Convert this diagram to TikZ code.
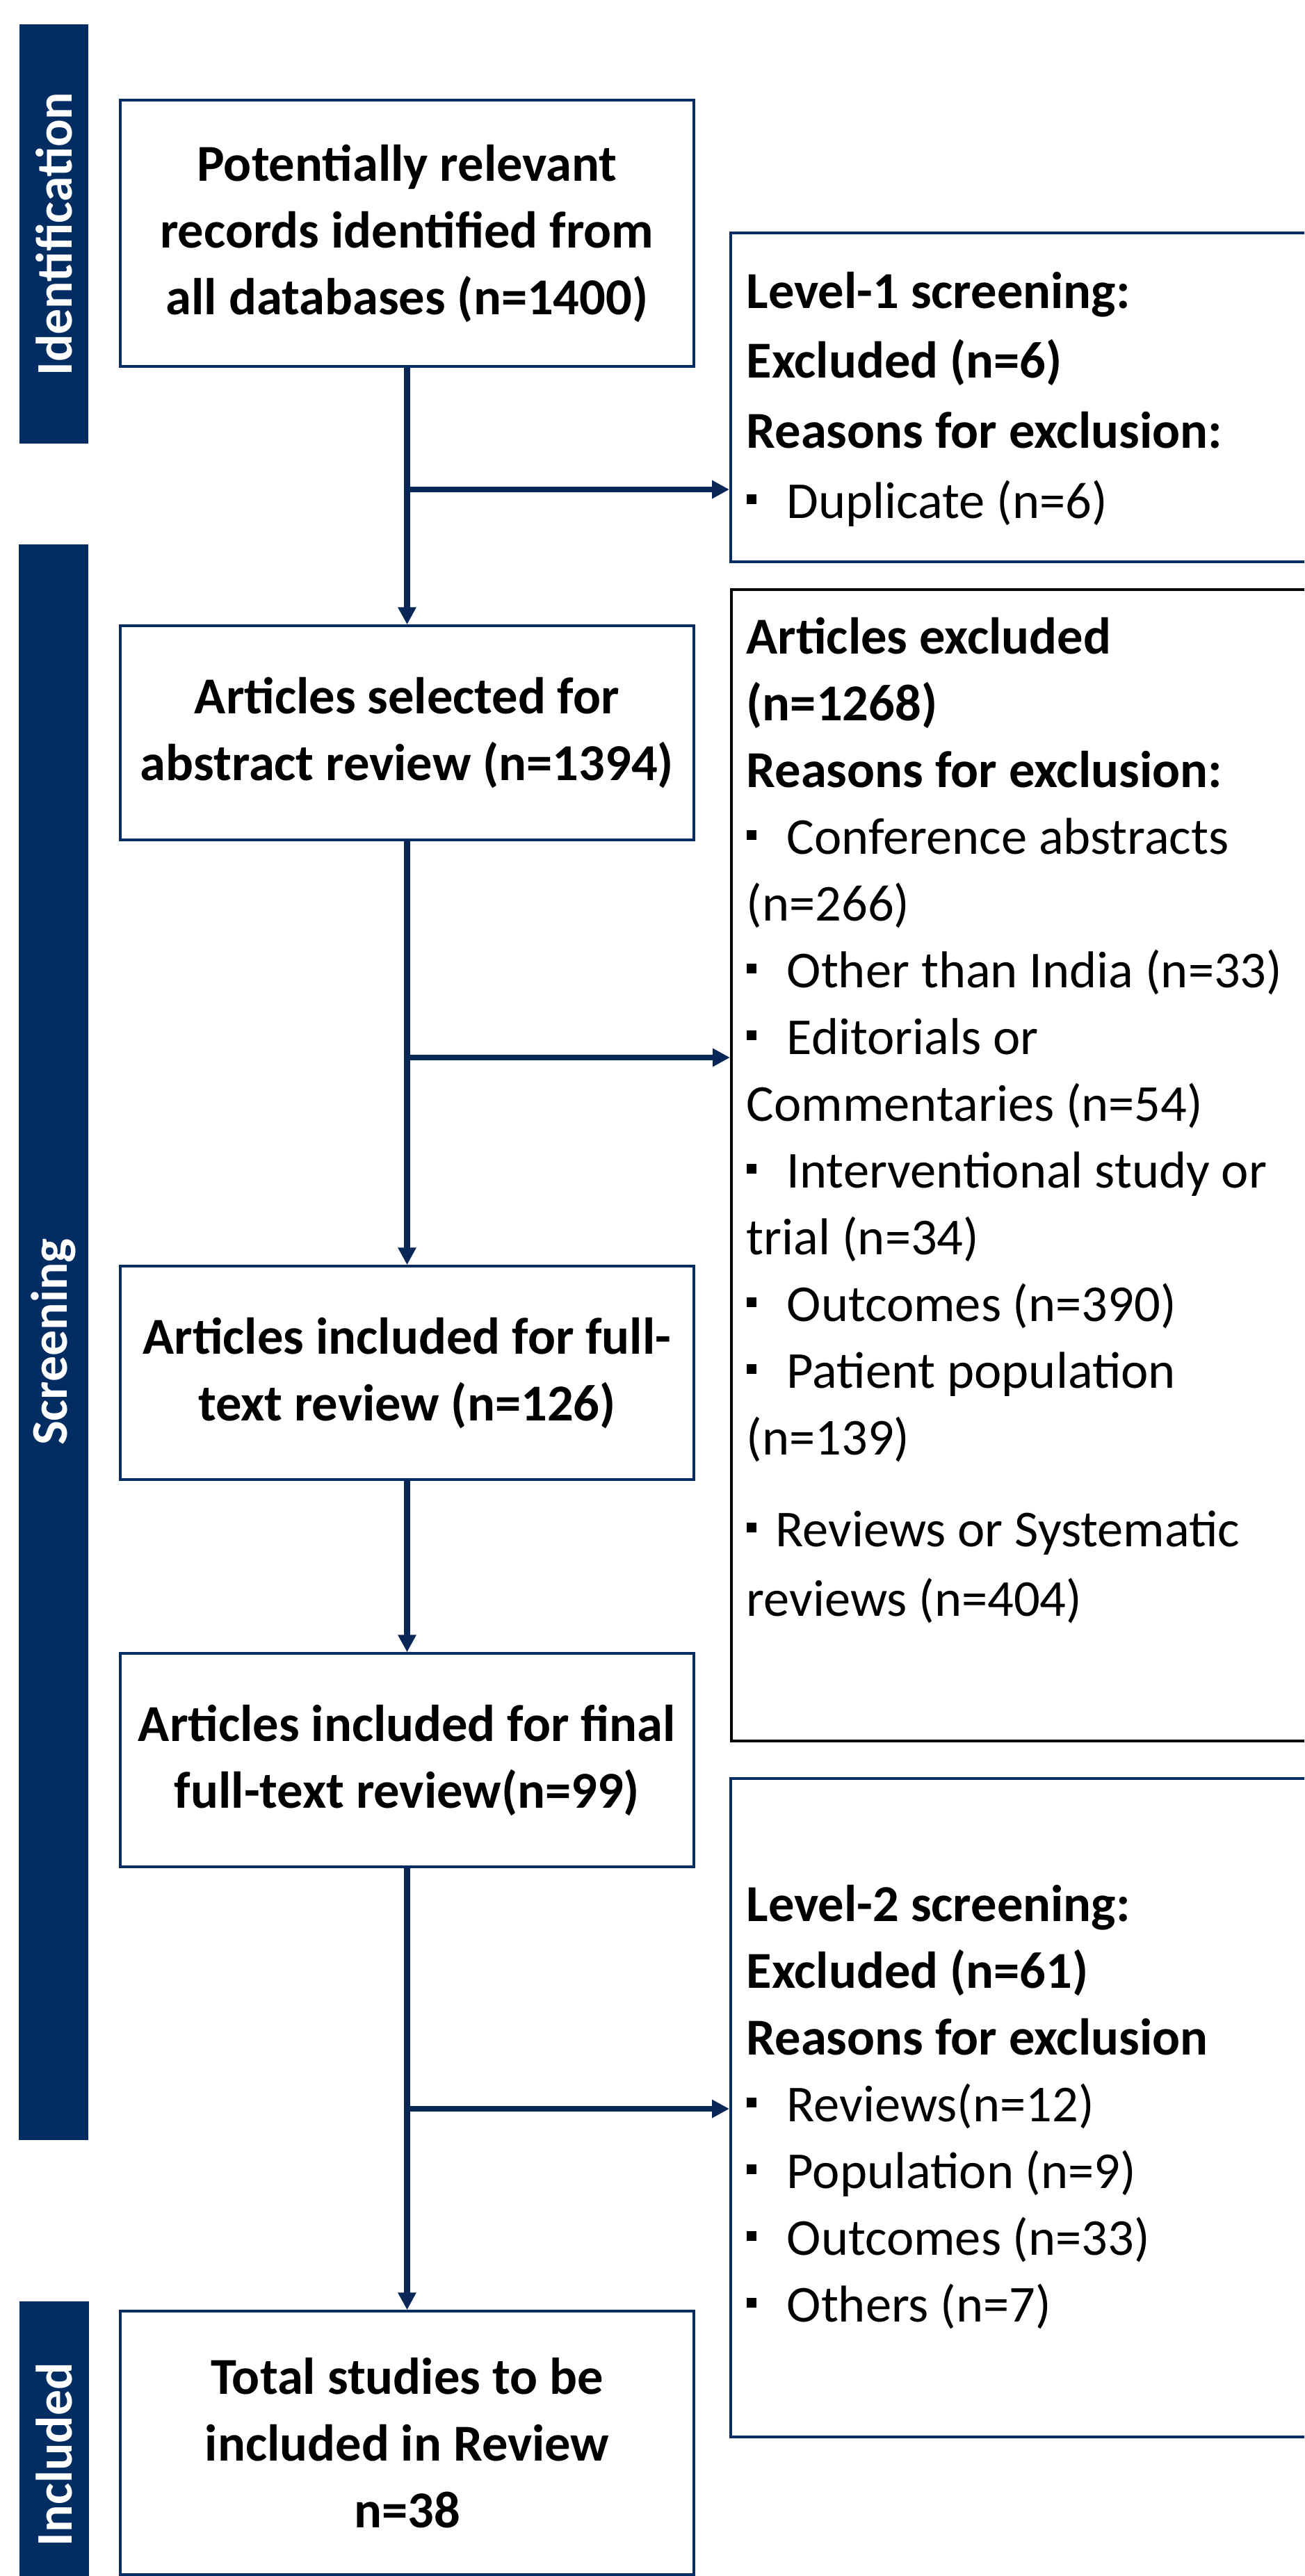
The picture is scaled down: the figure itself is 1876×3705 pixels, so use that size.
\documentclass[tikz,border=0pt]{standalone}
\usepackage{fontspec}
\setmainfont{Carlito}
\usetikzlibrary{arrows.meta, positioning}
\definecolor{navy}{RGB}{2,45,98}
\definecolor{flownavy}{RGB}{8,38,86}
\newcommand{\sqbul}[1]{\makebox[#1][l]{\rule[0.27em]{0.19em}{0.19em}}}

\begin{document}
\begin{tikzpicture}[x=0.1mm, y=-0.1mm,
    stagebox/.style={draw=navy, line width=1pt, fill=white, minimum width=82.5mm,
      align=center, inner sep=0pt, font=\bfseries\fontsize{21.2}{27.3}\selectfont},
    exbox/.style={draw=navy, line width=1.1pt, minimum width=95mm, anchor=north west, inner sep=0pt},
    extext/.style={anchor=base west, align=left, inner sep=0pt, font=\fontsize{21.2}{27.3}\selectfont},
    phaselabel/.style={rotate=90, text=white, inner sep=0pt, font=\bfseries\fontsize{21}{25}\selectfont},
    flow/.style={draw=flownavy, line width=2.4pt, -{Triangle[length=2.5mm, width=2.5mm]}}]
  \clip (0,0) rectangle (1876,3705);
  \fill[white] (0,0) rectangle (1876,3705);

  % phase bars
  \fill[navy] (28,35) rectangle (127,638);
  \fill[navy] (27,783) rectangle (127,3078);
  \fill[navy] (28,3310) rectangle (128,3720);
  \node[phaselabel] (identlbl) at (77.5,336.5) {Identification};
  \node[phaselabel] (screenlbl) at (77,1930) {Screening};
  \node[phaselabel] (inclbl) at (78,3530) {Included};

  % main column
  \node[stagebox, minimum height=38.3mm] (records) at (585.5,335.5)
    {Potentially relevant\\records identified from\\all databases (n=1400)};
  \node[stagebox, minimum height=30.8mm] (abstract) at (585.5,1054)
    {Articles selected for\\abstract review (n=1394)};
  \node[stagebox, minimum height=30.7mm] (fulltext) at (585.5,1974.5)
    {Articles included for full-\\text review (n=126)};
  \node[stagebox, minimum height=30.7mm] (finalrev) at (585.5,2531.5)
    {Articles included for final\\full-text review(n=99)};
  \node[stagebox, minimum height=37.9mm] (studies) at (585.5,3513.5)
    {Total studies to be\\included in Review\\n=38};

  % exclusion boxes
  \node[exbox, minimum height=47.3mm] (level1) at (1049,333) {};
  \node[exbox, draw=black, minimum height=165.6mm] (excl) at (1050,846) {};
  \node[exbox, minimum height=94.7mm] (level2) at (1049,2556) {};

  % texts sit on the baseline of their last line
  \node[extext, font=\fontsize{21.2}{28.6}\selectfont] (level1txt) at (1073,745)
    {\textbf{Level-1 screening:}\\\textbf{Excluded (n=6)}\\\textbf{Reasons for exclusion:}\\
     \sqbul{5.8mm}Duplicate (n=6)};
  \node[extext] (excltxt) at (1073,2324)
    {\textbf{Articles excluded}\\\textbf{(n=1268)}\\\textbf{Reasons for exclusion:}\\
     \sqbul{5.8mm}Conference abstracts\\(n=266)\\
     \sqbul{5.8mm}Other than India (n=33)\\
     \sqbul{5.8mm}Editorials or\\Commentaries (n=54)\\
     \sqbul{5.8mm}Interventional study or\\trial (n=34)\\
     \sqbul{5.8mm}Outcomes (n=390)\\
     \sqbul{5.8mm}Patient population\\(n=139)\\[3.6mm]
     \sqbul{4.2mm}Reviews or Systematic\\[0.4mm]reviews (n=404)};
  \node[extext] (level2txt) at (1073,3339)
    {\textbf{Level-2 screening:}\\\textbf{Excluded (n=61)}\\\textbf{Reasons for exclusion}\\
     \sqbul{5.8mm}Reviews(n=12)\\
     \sqbul{5.8mm}Population (n=9)\\
     \sqbul{5.8mm}Outcomes (n=33)\\
     \sqbul{5.8mm}Others (n=7)};

  % connectors
  \draw[flow] (records) -- (abstract);
  \draw[flow] (abstract) -- (fulltext);
  \draw[flow] (fulltext) -- (finalrev);
  \draw[flow] (finalrev) -- (studies);
  \coordinate (split1) at (585.5,704);
  \coordinate (split2) at (585.5,1521);
  \coordinate (split3) at (585.5,3033);
  \draw[flow] (split1) -- (split1 -| level1.west);
  \draw[flow] (split2) -- (split2 -| excl.west);
  \draw[flow] (split3) -- (split3 -| level2.west);
\end{tikzpicture}
\end{document}
